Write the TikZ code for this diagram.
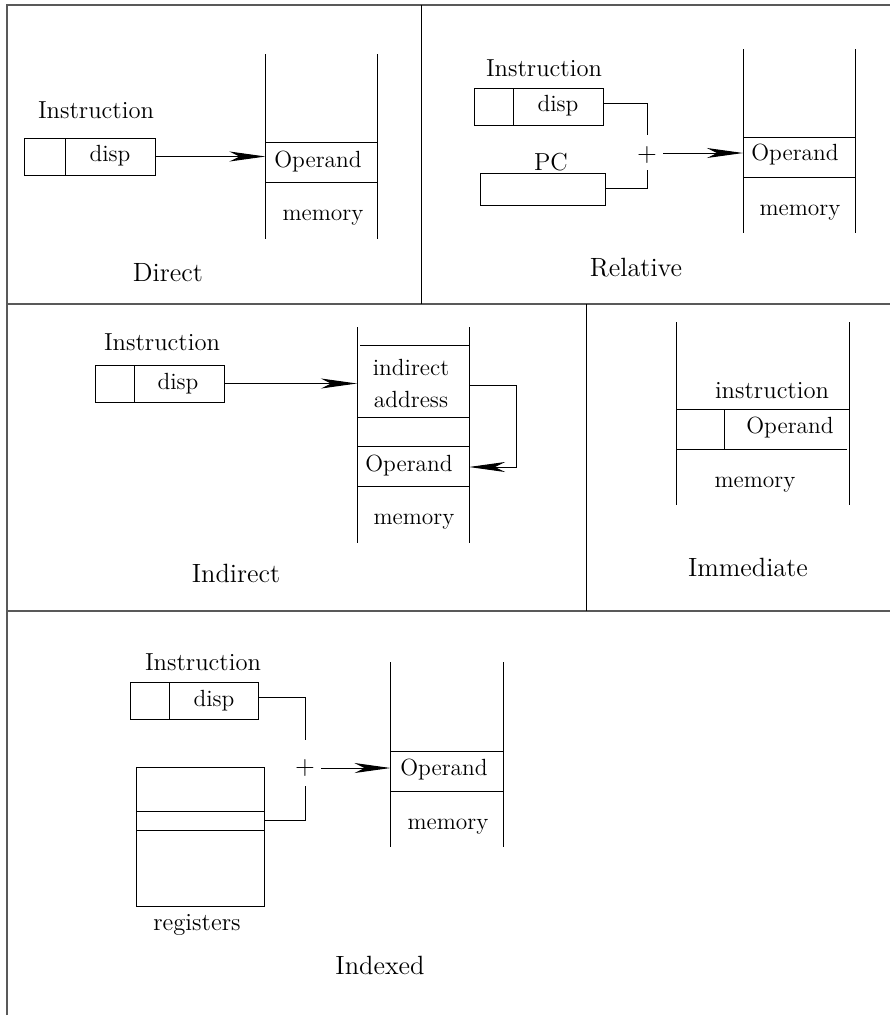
\documentclass[tikz,border=0pt]{standalone}
\usetikzlibrary{arrows.meta,fit}
\begin{document}
\begin{tikzpicture}[x=0.5pt,y=-0.5pt,
  frame/.style={line width=1pt,draw=black!65},
  divline/.style={line width=0.5pt,draw=black},
  ln/.style={line width=0.5pt,draw=black},
  rbox/.style={draw=black,line width=0.5pt,inner sep=0pt,outer sep=0pt},
  txt/.style={inner sep=0pt,font=\fontsize{11.7}{14}\selectfont},
  lbl/.style={inner sep=0pt,font=\fontsize{12.3}{15}\selectfont},
  ttl/.style={inner sep=0pt,font=\fontsize{13.2}{16}\selectfont},
  plus/.style={inner sep=0pt,font=\fontsize{13}{15}\selectfont},
  arr/.style={line width=0.5pt,-{Stealth[length=18pt,width=5pt,inset=5pt]}}]
\useasboundingbox (0,0) rectangle (890,1019);
% frame
\draw[frame] (7,1015) -- (7,5) -- (890,5);
\draw[frame] (7,304) -- (890,304);
\draw[frame] (7,611) -- (890,611);
\draw[divline] (421,5) -- (421,304);
\draw[divline] (586,304) -- (586,611);

% ---------------- Direct
\node[lbl] (dInsL) at (96,110) {Instruction};
\node[rbox,fit={(24,138) (155,175)}] (dIns) {};
\draw[ln] (65,138) -- (65,175);
\node[txt] (dDisp) at (110,156) {disp};
\draw[ln] (265.5,54) -- (265.5,239);
\draw[ln] (377.5,54) -- (377.5,239);
\draw[ln] (265.5,142.5) -- (377.5,142.5);
\draw[ln] (265.5,182.5) -- (377.5,182.5);
\node[txt] (dOp) at (318,162) {Operand};
\node[txt] (dMem) at (323,218) {memory};
\coordinate (dIn) at (265.5,156.5);
\draw[arr] (dIns.east) -- (dIn);
\node[ttl] (dT) at (168,273) {Direct};

% ---------------- Relative
\node[lbl] (rInsL) at (544,68) {Instruction};
\node[rbox,fit={(474,88) (603,125)}] (rIns) {};
\draw[ln] (513.5,88) -- (513.5,125);
\node[txt] (rDisp) at (558,106) {disp};
\node[lbl] (rPCL) at (551,162) {PC};
\node[rbox,fit={(480,173) (605,205)}] (rPC) {};
\node[plus] (rPlus) at (647,155) {+};
\coordinate (rA) at (603,103);
\coordinate (rA2) at (647,135);
\coordinate (rB) at (605,188);
\coordinate (rB2) at (647,170);
\draw[ln] (rA) -| (rA2);
\draw[ln] (rB) -| (rB2);
\draw[ln] (743,49) -- (743,233);
\draw[ln] (855,49) -- (855,233);
\draw[ln] (743,137.5) -- (855,137.5);
\draw[ln] (743,177.5) -- (855,177.5);
\node[txt] (rOp) at (795,155) {Operand};
\node[txt] (rMem) at (800,213) {memory};
\coordinate (rOut) at (663,153);
\coordinate (rIn) at (743,153);
\draw[arr] (rOut) -- (rIn);
\node[ttl] (rT) at (636,268) {Relative};

% ---------------- Indirect
\node[lbl] (iInsL) at (162,342) {Instruction};
\node[rbox,fit={(95.5,365) (224,402)}] (iIns) {};
\draw[ln] (134.5,365) -- (134.5,402);
\node[txt] (iDisp) at (178,384) {disp};
\draw[ln] (357,327) -- (357,543);
\draw[ln] (469,327) -- (469,543);
\draw[ln] (360,345) -- (469,345);
\draw[ln] (357,417) -- (469,417);
\draw[ln] (357,446.5) -- (469,446.5);
\draw[ln] (357,486.5) -- (469,486.5);
\node[txt] (iInd) at (411,367) {indirect};
\node[txt] (iAddr) at (411,399) {address};
\node[txt] (iOp) at (409,466) {Operand};
\node[txt] (iMem) at (414,522) {memory};
\coordinate (iIn) at (357,383.5);
\draw[arr] (iIns.east) -- (iIn);
\coordinate (iR1) at (469,385.5);
\coordinate (iR2) at (516.5,467);
\coordinate (iR3) at (469,467);
\draw[arr] (iR1) -| (iR2) -- (iR3);
\node[ttl] (iT) at (236,573) {Indirect};

% ---------------- Immediate
\draw[ln] (676,322) -- (676,505);
\draw[ln] (849,322) -- (849,505);
\draw[ln] (676,409) -- (849,409);
\draw[ln] (676,449) -- (847,449);
\draw[ln] (724,409) -- (724,449);
\node[lbl] (mIns) at (772,391) {instruction};
\node[txt] (mOp) at (790,428) {Operand};
\node[txt] (mMem) at (755,485) {memory};
\node[ttl] (mT) at (748,567) {Immediate};

% ---------------- Indexed
\node[lbl] (xInsL) at (203,662) {Instruction};
\node[rbox,fit={(130.5,682) (258.5,719)}] (xIns) {};
\draw[ln] (169.5,682) -- (169.5,719);
\node[txt] (xDisp) at (214,701) {disp};
\node[rbox,fit={(136,767) (264,906)}] (xReg) {};
\draw[ln] (136,811.5) -- (264,811.5);
\draw[ln] (136,830) -- (264,830);
\node[lbl] (xRegL) at (197,925) {registers};
\node[plus] (xPlus) at (305,768) {+};
\coordinate (xA) at (258.5,697);
\coordinate (xA2) at (305,740);
\coordinate (xB) at (264,820);
\coordinate (xB2) at (305,786);
\draw[ln] (xA) -| (xA2);
\draw[ln] (xB) -| (xB2);
\draw[ln] (390.5,662) -- (390.5,847);
\draw[ln] (503,662) -- (503,847);
\draw[ln] (390.5,751) -- (503,751);
\draw[ln] (390.5,791) -- (503,791);
\node[txt] (xOp) at (444,770) {Operand};
\node[txt] (xMem) at (448,827) {memory};
\coordinate (xOut) at (321,768);
\coordinate (xIn) at (390.5,768);
\draw[arr] (xOut) -- (xIn);
\node[ttl] (xT) at (380,965) {Indexed};
\end{tikzpicture}
\end{document}
